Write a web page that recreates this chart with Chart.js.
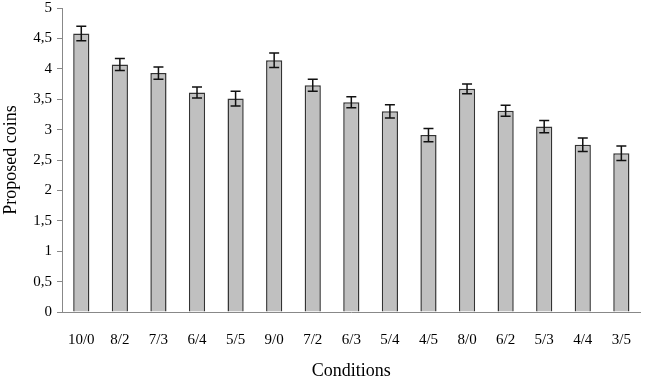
<!DOCTYPE html>
<html>
<head>
<meta charset="utf-8">
<script src="https://cdn.jsdelivr.net/npm/chart.js@4/dist/chart.umd.min.js"></script>
<style>
html,body{margin:0;padding:0;background:#fff;}
#wrap{width:650px;height:382px;position:relative;}
</style>
</head>
<body>
<div id="wrap"><canvas id="c"></canvas></div>
<script>
const categories = ["10/0","8/2","7/3","6/4","5/5","9/0","7/2","6/3","5/4","4/5","8/0","6/2","5/3","4/4","3/5"];
const proposedCoins = [4.58,4.07,3.93,3.61,3.51,4.14,3.73,3.45,3.30,2.91,3.67,3.31,3.05,2.75,2.61];
const errors = [0.12,0.10,0.10,0.09,0.12,0.12,0.10,0.09,0.11,0.11,0.08,0.09,0.10,0.11,0.12];
const yTickLabels = ["0","0,5","1","1,5","2","2,5","3","3,5","4","4,5","5"];

const errorBarPlugin = {
  id: 'errorBars',
  afterDatasetsDraw(chart) {
    const ctx = chart.ctx;
    const meta = chart.getDatasetMeta(0);
    const ys = chart.scales.y;
    ctx.save();
    ctx.strokeStyle = '#111';
    ctx.lineWidth = 1.5;
    meta.data.forEach((bar, i) => {
      const x = bar.x;
      const top = ys.getPixelForValue(proposedCoins[i] + errors[i]);
      const bot = ys.getPixelForValue(proposedCoins[i] - errors[i]);
      const hw = 5;
      ctx.beginPath();
      ctx.moveTo(x, top); ctx.lineTo(x, bot);
      ctx.moveTo(x - hw, top); ctx.lineTo(x + hw, top);
      ctx.moveTo(x - hw, bot); ctx.lineTo(x + hw, bot);
      ctx.stroke();
    });
    ctx.restore();
  }
};

Chart.defaults.font.family = '"Liberation Serif", "Times New Roman", serif';
Chart.defaults.color = '#000';

new Chart(document.getElementById('c'), {
  type: 'bar',
  data: {
    labels: categories,
    datasets: [{
      data: proposedCoins,
      backgroundColor: '#c0c0c0',
      borderColor: '#333',
      borderWidth: 1.5,
      borderSkipped: 'bottom',
      categoryPercentage: 1,
      barPercentage: 0.42
    }]
  },
  options: {
    responsive: true,
    maintainAspectRatio: false,
    animation: false,
    layout: { padding: { top: 0, right: 2, left: 0, bottom: 0 } },
    plugins: { legend: { display: false }, tooltip: { enabled: false } },
    scales: {
      x: {
        grid: { display: false, drawTicks: false },
        border: { display: true, color: '#888', width: 1 },
        ticks: { padding: 19, font: { size: 15 }, color: '#000' },
        title: { display: true, text: 'Conditions', font: { size: 18 }, color: '#000', padding: { top: 7, bottom: 0 } },
        afterFit(scale) { scale.height = 70; }
      },
      y: {
        min: 0, max: 5,
        grid: { drawOnChartArea: false, drawTicks: true, tickLength: 5, color: '#888' },
        border: { display: true, color: '#888', width: 1 },
        ticks: {
          stepSize: 0.5, padding: 5, font: { size: 15 }, color: '#000',
          callback: (v, i) => yTickLabels[i]
        },
        title: { display: true, text: 'Proposed coins', font: { size: 18 }, color: '#000', padding: { top: 0, bottom: 4 } },
        afterFit(scale) { scale.width = 62; scale.paddingTop = 8; }
      }
    }
  },
  plugins: [errorBarPlugin]
});
</script>
</body>
</html>
